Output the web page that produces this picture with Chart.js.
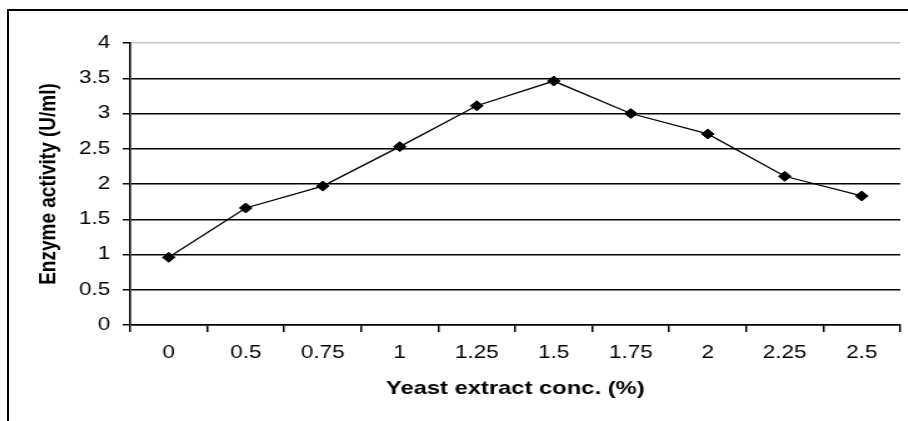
<!DOCTYPE html>
<html>
<head>
<meta charset="utf-8">
<script src="https://cdn.jsdelivr.net/npm/chart.js@4/dist/chart.umd.min.js"></script>
<style>
  body { margin: 0; background: #fff; overflow: hidden; }
  #frame {
    position: absolute; left: 7px; top: 9px;
    width: 920px; height: 420px;
    border-left: 2px solid #000; border-top: 2px solid #000;
  }
  #myChart { display: block; transform: scaleX(1.25); transform-origin: 0 0; }
</style>
</head>
<body>
<div id="frame"><canvas id="myChart" width="719" height="410"></canvas></div>
<script>
const xLabels = ['0', '0.5', '0.75', '1', '1.25', '1.5', '1.75', '2', '2.25', '2.5'];
const activity = [0.96, 1.66, 1.97, 2.53, 3.11, 3.46, 3.0, 2.71, 2.11, 1.83];
const yTicks = [0, 0.5, 1, 1.5, 2, 2.5, 3, 3.5, 4];

const tickFont = { family: 'Liberation Sans', size: 18 };
const titleFont = { family: 'Liberation Sans', size: 19, weight: 'bold' };

new Chart('myChart', {
  type: 'line',
  data: {
    labels: xLabels,
    datasets: [{
      data: activity,
      borderColor: '#000',
      borderWidth: 1.3,
      pointStyle: 'rectRot',
      pointRadius: 5,
      pointBackgroundColor: '#000',
      pointBorderColor: '#000',
      pointBorderWidth: 1,
      fill: false,
      tension: 0
    }]
  },
  options: {
    responsive: false,
    animation: false,
    layout: { padding: { top: 32, right: 4, left: 0, bottom: 0 } },
    plugins: { legend: { display: false }, tooltip: { enabled: false } },
    scales: {
      x: {
        type: 'category',
        offset: true,
        afterFit: function(s) { s.height = 96; },
        grid: {
          offset: true,
          drawOnChartArea: false,
          drawTicks: true,
          tickLength: 7,
          color: '#000',
          lineWidth: 1.5
        },
        border: { color: '#000', width: 1.5 },
        ticks: { color: '#000', font: tickFont, padding: 10, maxRotation: 0, autoSkip: false },
        title: {
          display: true,
          text: 'Yeast extract conc. (%)',
          color: '#000',
          font: titleFont,
          padding: { top: 0, bottom: 21 }
        }
      },
      y: {
        min: 0,
        max: 4,
        afterFit: function(s) { s.width = 97; },
        afterBuildTicks: function(s) { s.ticks = yTicks.map(v => ({ value: v })); },
        grid: {
          color: ctx => (ctx.tick && ctx.tick.value === 4) ? '#c4c4c4' : '#000',
          tickColor: '#000',
          lineWidth: 1.5,
          tickLength: 6
        },
        border: { color: '#000', width: 1.6 },
        ticks: { color: '#000', font: tickFont, padding: 10, callback: v => String(v) },
        title: {
          display: true,
          text: 'Enzyme activity (U/ml)',
          color: '#000',
          font: titleFont,
          padding: { top: 20, bottom: 0 }
        }
      }
    }
  }
});
</script>
</body>
</html>
